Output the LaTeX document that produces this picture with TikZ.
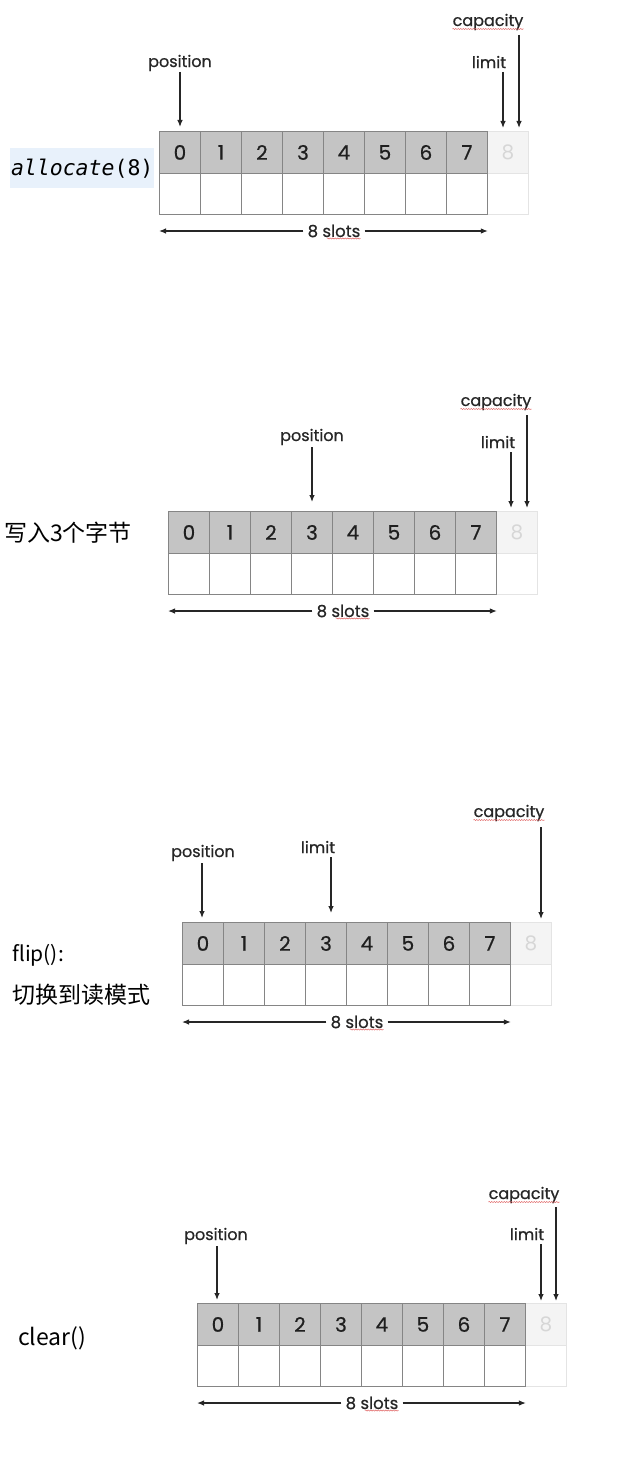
\documentclass[tikz,border=0pt]{standalone}
\usepackage{fontspec}
\setmainfont{Poppins}
\newfontfamily\lblfont[FakeBold=0.6]{Poppins}
\newfontfamily\cjk{Noto Sans CJK SC}
\newfontfamily\mono{DejaVu Sans Mono}
\usetikzlibrary{arrows.meta,decorations.pathmorphing}
\definecolor{cellfill}{HTML}{C4C4C4}
\definecolor{gridline}{HTML}{858585}
\definecolor{ghostfill}{HTML}{F4F4F4}
\definecolor{ghostline}{HTML}{E4E4E4}
\definecolor{ghosttext}{HTML}{D6D6D6}
\definecolor{codebg}{HTML}{E8F1FB}
\definecolor{squig}{HTML}{E06060}
\tikzset{
  topcell/.style={draw=gridline, fill=cellfill, line width=0.9pt, anchor=north west,
    minimum width=41pt, minimum height=42pt, inner sep=0pt, text=black!88,
    font=\lblfont\fontsize{20}{20}\selectfont},
  botcell/.style={draw=gridline, fill=white, line width=0.9pt, anchor=north west,
    minimum width=41pt, minimum height=41pt, inner sep=0pt},
  ghostcell/.style={draw=ghostline, fill=ghostfill, line width=0.9pt, anchor=north west,
    minimum width=41pt, minimum height=42pt, inner sep=0pt, text=ghosttext,
    font=\fontsize{20}{20}\selectfont},
  ghostbot/.style={draw=ghostline, fill=white, line width=0.9pt, anchor=north west,
    minimum width=41pt, minimum height=41pt, inner sep=0pt},
  lbl/.style={inner sep=0pt, text=black!85, font=\lblfont\fontsize{16}{16}\selectfont},
  slotlbl/.style={inner sep=4pt, fill=white, text=black!85, font=\lblfont\fontsize{16.5}{16.5}\selectfont},
  ptr/.style={line width=1.2pt, black!85, -{Latex[length=7pt,width=5.5pt]}},
  squiggle/.style={squig, line width=0.5pt, decorate,
    decoration={snake, segment length=2.5pt, amplitude=0.6pt}},
  side/.style={inner sep=0pt, anchor=west, font=\cjk\fontsize{23}{23}\selectfont},
}
\newcommand\bufgrid[3]{%
  \node[ghostcell] (#1t8) at ({#2+328},#3) {8};
  \node[ghostbot] (#1b8) at ({#2+328},{#3+42}) {};
  \foreach \i in {0,...,7} {
    \node[botcell] (#1b\i) at ({#2+\i*41},{#3+42}) {};
  }
  \foreach \i in {0,...,7} {
    \node[topcell] (#1t\i) at ({#2+\i*41},#3) {\i};
  }
  \node[slotlbl] (#1s) at ({#2+175},{#3+100}) {8 slots};
  \draw[ptr] (#1s.west) -- (#1b0.south west |- #1s.west);
  \draw[ptr] (#1s.east) -- (#1b7.south east |- #1s.east);
  \draw[squiggle] ([xshift=-7pt,yshift=-7.5pt]#1s.center) -- ([xshift=-4pt,yshift=-7.5pt]#1s.east);
}
\newcommand\capsquig[1]{%
  \draw[squiggle] ([yshift=-7pt]#1.west) -- ([yshift=-7pt]#1.east);
}
\begin{document}
\begin{tikzpicture}[x=1pt,y=-1pt]
\fill[white] (0,0) rectangle (636,1469);
\useasboundingbox (0,0) rectangle (636,1469);

% ---------- panel 1: allocate(8)
\bufgrid{pa}{159}{131}
\node[fill=codebg, minimum width=144pt, minimum height=40pt, inner sep=0pt, anchor=north west] (pacode) at (10,148) {};
\node[inner sep=0pt, font=\mono\fontsize{21.5}{21.5}\selectfont] (pacodetxt) at (pacode.center) {\textit{allocate}(8)};
\node[lbl] (pacap) at (488,22) {capacity};
\capsquig{pacap}
\coordinate (pacapA) at (519,35);
\draw[ptr, shorten >=3pt] (pacapA) -- (pacapA |- pat8.north);
\node[lbl] (palim) at (489,62) {limit};
\coordinate (palimA) at (503,72);
\draw[ptr, shorten >=3pt] (palimA) -- (palimA |- pat8.north);
\node[lbl] (papos) at (180,63) {position};
\coordinate (paposA) at (180,72);
\draw[ptr, shorten >=4pt] (paposA) -- (paposA |- pat0.north);

% ---------- panel 2: write 3 bytes
\bufgrid{pb}{168}{511}
\node[side] (pbtxt) at (4,533) {写入3个字节};
\node[lbl] (pbcap) at (496,402) {capacity};
\capsquig{pbcap}
\coordinate (pbcapA) at (527,415);
\draw[ptr, shorten >=3pt] (pbcapA) -- (pbcapA |- pbt8.north);
\node[lbl] (pblim) at (498,442) {limit};
\coordinate (pblimA) at (511,452);
\draw[ptr, shorten >=3pt] (pblimA) -- (pblimA |- pbt8.north);
\node[lbl] (pbpos) at (312,437) {position};
\coordinate (pbposA) at (312,447);
\draw[ptr, shorten >=9pt] (pbposA) -- (pbposA |- pbt3.north);

% ---------- panel 3: flip()
\bufgrid{pc}{182}{922}
\node[side, font=\cjk\fontsize{21}{21}\selectfont] (pctxt1) at (12,955) {flip():};
\node[side] (pctxt2) at (12,995) {切换到读模式};
\node[lbl] (pccap) at (509,813) {capacity};
\capsquig{pccap}
\coordinate (pccapA) at (541,827);
\draw[ptr, shorten >=3pt] (pccapA) -- (pccapA |- pct8.north);
\node[lbl] (pclim) at (318,847) {limit};
\coordinate (pclimA) at (331,857);
\draw[ptr, shorten >=9pt] (pclimA) -- (pclimA |- pct3.north);
\node[lbl] (pcpos) at (203,853) {position};
\coordinate (pcposA) at (202,863);
\draw[ptr, shorten >=4pt] (pcposA) -- (pcposA |- pct0.north);

% ---------- panel 4: clear()
\bufgrid{pd}{197}{1303}
\node[side] (pdtxt) at (18,1338) {clear()};
\node[lbl] (pdcap) at (524,1195) {capacity};
\capsquig{pdcap}
\coordinate (pdcapA) at (556,1207);
\draw[ptr, shorten >=2pt] (pdcapA) -- (pdcapA |- pdt8.north);
\node[lbl] (pdlim) at (527,1234) {limit};
\coordinate (pdlimA) at (541,1244);
\draw[ptr, shorten >=2pt] (pdlimA) -- (pdlimA |- pdt8.north);
\node[lbl] (pdpos) at (216,1236) {position};
\coordinate (pdposA) at (217,1246);
\draw[ptr, shorten >=3pt] (pdposA) -- (pdposA |- pdt0.north);
\end{tikzpicture}
\end{document}
